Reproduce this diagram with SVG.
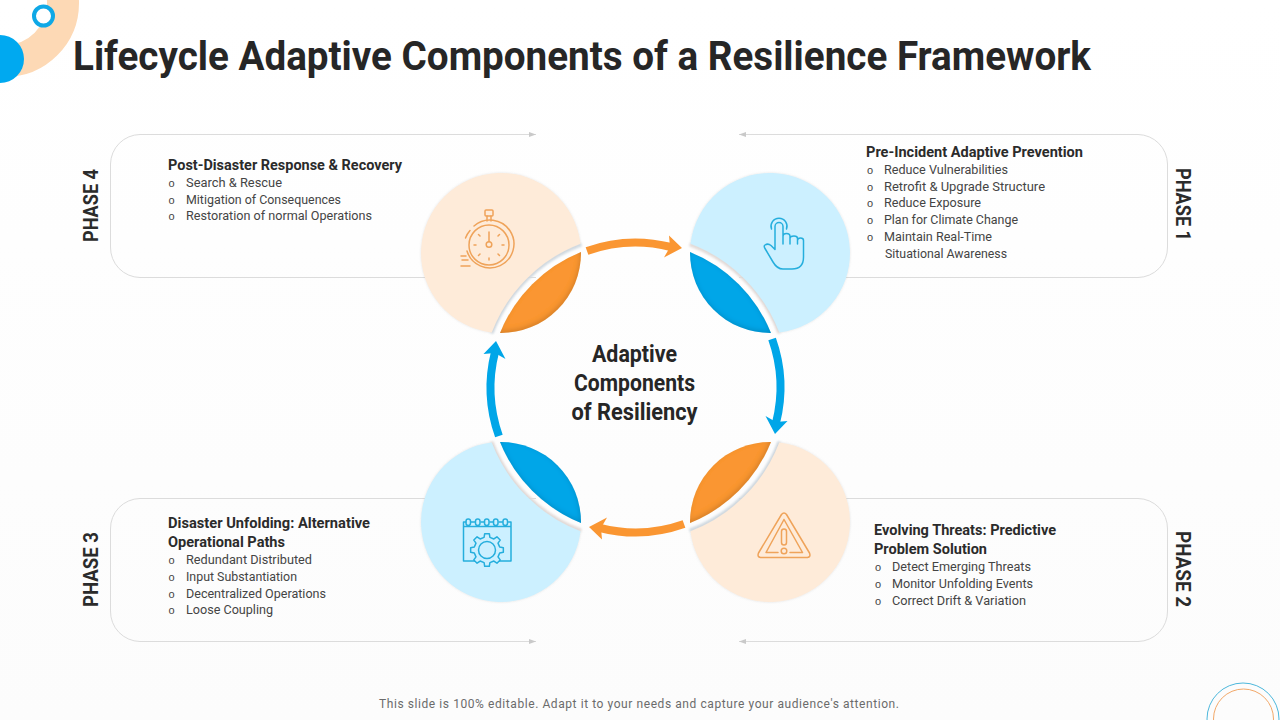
<svg xmlns="http://www.w3.org/2000/svg" width="1280" height="720" viewBox="0 0 1280 720">
<style>
.h{font:700 14px Roboto,"Liberation Sans",sans-serif;fill:#2b2b2b}
.b{font:400 12.5px Roboto,"Liberation Sans",sans-serif;fill:#444}
.o{font:400 11px "Liberation Sans",sans-serif;fill:#444}
.ph{font:700 20px Roboto,"Liberation Sans",sans-serif;fill:#2b2b2b}
.c{font:700 23px Roboto,"Liberation Sans",sans-serif;fill:#262626;text-anchor:middle}
.panel{fill:none;stroke:#dcdcdc;stroke-width:1;marker-start:url(#tick)}
.po{fill:#FEEBD9;filter:url(#soft)}
.pb{fill:#CCF0FF;filter:url(#soft)}
.lo{fill:#FA9632;filter:url(#inner)}
.lb{fill:#00A6E8;filter:url(#inner)}
.edge{fill:none;stroke-width:3.5;filter:url(#blur)}
.io{fill:none;stroke:#EFA35A;stroke-width:1.5;stroke-linecap:round;stroke-linejoin:round}
.ib{fill:none;stroke:#25AEDD;stroke-width:1.5;stroke-linecap:round;stroke-linejoin:round}
.ao{fill:none;stroke:#FA9632;stroke-width:8}
.ab{fill:none;stroke:#00A6E8;stroke-width:8}
</style>
<defs>
<linearGradient id="bg" x1="0" y1="0" x2="0" y2="1"><stop offset="0" stop-color="#ffffff"/><stop offset="1" stop-color="#fcfcfc"/></linearGradient>
<filter id="soft" x="-10%" y="-10%" width="120%" height="120%"><feDropShadow dx="0" dy="0" stdDeviation="1" flood-color="#888" flood-opacity=".25"/></filter>
<filter id="blur" x="-10%" y="-10%" width="120%" height="120%"><feGaussianBlur stdDeviation=".8"/></filter>
<filter id="inner" x="-10%" y="-10%" width="120%" height="120%">
<feFlood flood-color="#000" flood-opacity=".3" result="f"/>
<feComposite in="f" in2="SourceAlpha" operator="out" result="inv"/>
<feGaussianBlur in="inv" stdDeviation="2.5" result="bl"/>
<feOffset in="bl" dx="-1" dy="-2" result="of"/>
<feComposite in="of" in2="SourceAlpha" operator="in" result="sh"/>
<feMerge><feMergeNode in="SourceGraphic"/><feMergeNode in="sh"/></feMerge>
</filter>
<marker id="tick" markerUnits="userSpaceOnUse" markerWidth="8" markerHeight="6" refX="7" refY="3" orient="auto-start-reverse"><path d="M0 0.5L7 3L0 5.500z" fill="#c9c9c9"/></marker>
</defs>
<rect width="1280" height="720" fill="url(#bg)"/>

<g id="decor">
<circle cx="5" cy="3" r="58" fill="none" stroke="#FDD9B5" stroke-width="32"/>
<circle cx="43.500" cy="16" r="9.500" fill="#fff" stroke="#0FA8E6" stroke-width="4"/>
<circle cx="0" cy="59" r="24" fill="#00A9F0"/>
<circle cx="1243" cy="719" r="36" fill="none" stroke="#4DB8DC" stroke-width="1"/>
<circle cx="1243.500" cy="719" r="30" fill="none" stroke="#F2A869" stroke-width="1"/>
</g>

<text id="title" x="73" y="70" font-family="Roboto,'Liberation Sans',sans-serif" font-weight="700" font-size="40" fill="#262626" textLength="1018" lengthAdjust="spacingAndGlyphs">Lifecycle Adaptive Components of a Resilience Framework</text>

<g id="phase-4">
<path class="panel" d="M536 134.500H140A30 30 0 0 0 110.500 164V247A30 30 0 0 0 140 277.500H536"/>
<path class="edge" stroke="#d3dce3" d="M491.700 333.500A152.500 152.500 0 0 1 581.500 244.500"/>
<path class="po" d="M580.500 243.700A80 80 0 1 0 491.700 332.500A154 154 0 0 1 580.500 243.700z"/>
<path class="lo" d="M581 252A80 80 0 0 1 500 333A146 146 0 0 1 581 252z"/>
<g class="io">
<path d="M474 226A24 24 0 1 1 467 251M470 230.500A24 24 0 0 0 465.500 238"/>
<circle cx="489" cy="245" r="20"/>
<rect x="485" y="210" width="8" height="6" rx="1"/>
<path d="M487 216V221M491 216V221"/>
<circle cx="489" cy="244.500" r="2.800"/>
<path d="M489 232V241.500M489 258V260M476 245H474M502 245H504M480 236L478.500 234.500M498 236L499.500 234.500M480 254L478.500 255.500M498 254L499.500 255.500"/>
<path d="M461 256H466M462 260H468M461 266H470"/>
</g>
<text class="ph" transform="translate(98 242) rotate(-90)" textLength="73" lengthAdjust="spacingAndGlyphs">PHASE 4</text>
<text class="h" x="168" y="170" textLength="234" lengthAdjust="spacingAndGlyphs">Post-Disaster Response  &amp; Recovery</text>
<text class="o" x="168.500" y="187">o</text><text class="b" x="186" y="187" textLength="96" lengthAdjust="spacingAndGlyphs">Search &amp; Rescue</text>
<text class="o" x="168.500" y="204">o</text><text class="b" x="186" y="204" textLength="155" lengthAdjust="spacingAndGlyphs">Mitigation of Consequences</text>
<text class="o" x="168.500" y="220">o</text><text class="b" x="186" y="220" textLength="186" lengthAdjust="spacingAndGlyphs">Restoration of normal Operations</text>
</g>

<g id="phase-1">
<path class="panel" d="M739 134.500H1138A30 30 0 0 1 1167.500 164V247A30 30 0 0 1 1138 277.500H739"/>
<path class="edge" stroke="#e6dedb" d="M779.300 333.500A152.500 152.500 0 0 0 689.500 244.500"/>
<path class="pb" d="M690.500 243.700A80 80 0 1 1 779.300 332.500A154 154 0 0 0 690.500 243.700z"/>
<path class="lb" d="M690 252A80 80 0 0 0 771 333A146 146 0 0 0 690 252z"/>
<g class="ib">
<path d="M771.500 229A8 8 0 1 1 786.500 229"/>
<path d="M783 241V226.500A4 4 0 0 0 775 226.500V249.500L771 245.500Q768 243 765 245Q763.500 246 765 248.500L773 262Q777 269 783 269H792Q803.500 269 803.500 257V240.500Q803.500 238 800.500 238Q797.500 238 797.500 240.500V244V238.500Q797.500 236 794 236Q790 236 790 238.500V244V236.500Q790 233.500 786.500 233.500Q783 233.500 783 236.500V244"/>
</g>
<text class="ph" transform="translate(1176 168) rotate(90)" textLength="73" lengthAdjust="spacingAndGlyphs">PHASE 1</text>
<text class="h" x="866" y="157" textLength="217" lengthAdjust="spacingAndGlyphs">Pre-Incident Adaptive Prevention</text>
<text class="o" x="867" y="174">o</text><text class="b" x="884" y="174" textLength="124" lengthAdjust="spacingAndGlyphs">Reduce Vulnerabilities</text>
<text class="o" x="867" y="191">o</text><text class="b" x="884" y="191" textLength="161" lengthAdjust="spacingAndGlyphs">Retrofit &amp; Upgrade Structure</text>
<text class="o" x="867" y="207">o</text><text class="b" x="884" y="207" textLength="97" lengthAdjust="spacingAndGlyphs">Reduce Exposure</text>
<text class="o" x="867" y="224">o</text><text class="b" x="884" y="224" textLength="134" lengthAdjust="spacingAndGlyphs">Plan for Climate Change</text>
<text class="o" x="867" y="241">o</text><text class="b" x="884" y="241" textLength="108" lengthAdjust="spacingAndGlyphs">Maintain Real-Time</text>
<text class="b" x="885" y="258" textLength="122" lengthAdjust="spacingAndGlyphs">Situational Awareness</text>
</g>

<g id="phase-3">
<path class="panel" d="M536 641.500H140A30 30 0 0 1 110.500 611V529A30 30 0 0 1 140 498.500H536"/>
<path class="edge" stroke="#e6dedb" d="M491.700 441.500A152.500 152.500 0 0 0 581.500 530.500"/>
<path class="pb" d="M580.500 531.300A80 80 0 1 1 491.700 442.500A154 154 0 0 0 580.500 531.300z"/>
<path class="lb" d="M581 523A80 80 0 0 0 500 442A146 146 0 0 0 581 523z"/>
<g class="ib">
<path d="M466 522H463.500V561H511V522H508.500M463.500 526.500H511M471 522H475M481 522H484.500M490 522H493.500M499 522H502.500"/>
<rect x="466" y="519" width="4.500" height="6.500" rx="2.200"/><rect x="475.500" y="519" width="4.500" height="6.500" rx="2.200"/><rect x="484.500" y="519" width="4.500" height="6.500" rx="2.200"/><rect x="493.500" y="519" width="4.500" height="6.500" rx="2.200"/><rect x="503" y="519" width="4.500" height="6.500" rx="2.200"/>
<polygon transform="translate(487 550)" fill="#CCF0FF" points="12.67,-2.92 16.34,-2.3 16.34,2.3 12.67,2.92 11.02,6.89 13.18,9.93 9.93,13.18 6.89,11.02 2.92,12.67 2.3,16.34 -2.3,16.34 -2.92,12.67 -6.89,11.02 -9.93,13.18 -13.18,9.93 -11.02,6.89 -12.67,2.92 -16.34,2.3 -16.34,-2.3 -12.67,-2.92 -11.02,-6.89 -13.18,-9.93 -9.93,-13.18 -6.89,-11.02 -2.92,-12.67 -2.3,-16.34 2.3,-16.34 2.92,-12.67 6.89,-11.02 9.93,-13.18 13.18,-9.93 11.02,-6.89"/>
<circle cx="487" cy="550" r="8.500"/>
</g>
<text class="ph" transform="translate(98 607) rotate(-90)" textLength="75" lengthAdjust="spacingAndGlyphs">PHASE 3</text>
<text class="h" x="168" y="528" textLength="202" lengthAdjust="spacingAndGlyphs">Disaster Unfolding: Alternative</text>
<text class="h" x="168" y="547" textLength="117" lengthAdjust="spacingAndGlyphs">Operational Paths</text>
<text class="o" x="168.500" y="564">o</text><text class="b" x="186" y="564" textLength="126" lengthAdjust="spacingAndGlyphs">Redundant Distributed</text>
<text class="o" x="168.500" y="581">o</text><text class="b" x="186" y="581" textLength="111" lengthAdjust="spacingAndGlyphs">Input Substantiation</text>
<text class="o" x="168.500" y="598">o</text><text class="b" x="186" y="598" textLength="140" lengthAdjust="spacingAndGlyphs">Decentralized Operations</text>
<text class="o" x="168.500" y="614">o</text><text class="b" x="186" y="614" textLength="87" lengthAdjust="spacingAndGlyphs">Loose Coupling</text>
</g>

<g id="phase-2">
<path class="panel" d="M739 641.500H1138A30 30 0 0 0 1167.500 611V529A30 30 0 0 0 1138 498.500H739"/>
<path class="edge" stroke="#d3dce3" d="M779.300 441.500A152.500 152.500 0 0 1 689.500 530.500"/>
<path class="po" d="M690.500 531.300A80 80 0 1 0 779.300 442.500A154 154 0 0 1 690.500 531.300z"/>
<path class="lo" d="M690 523A80 80 0 0 1 771 442A146 146 0 0 1 690 523z"/>
<g class="io">
<path d="M781.500 514.500Q784 511.500 786.500 514.500L809.500 553Q811 557 807.500 557.500H760.500Q757 557 758.500 553z"/>
<path d="M784 519.500L802.500 552.500H790M778 552.500H766L784 519.500"/>
<rect x="781.500" y="529" width="5" height="16" rx="2.500"/>
<circle cx="784" cy="551" r="2.800"/>
</g>
<text class="ph" transform="translate(1176 531) rotate(90)" textLength="76" lengthAdjust="spacingAndGlyphs">PHASE 2</text>
<text class="h" x="874" y="535" textLength="182" lengthAdjust="spacingAndGlyphs">Evolving Threats: Predictive</text>
<text class="h" x="874" y="554" textLength="113" lengthAdjust="spacingAndGlyphs">Problem Solution</text>
<text class="o" x="875" y="571">o</text><text class="b" x="892" y="571" textLength="139" lengthAdjust="spacingAndGlyphs">Detect Emerging Threats</text>
<text class="o" x="875" y="588">o</text><text class="b" x="892" y="588" textLength="141" lengthAdjust="spacingAndGlyphs">Monitor Unfolding Events</text>
<text class="o" x="875" y="605">o</text><text class="b" x="892" y="605" textLength="134" lengthAdjust="spacingAndGlyphs">Correct Drift &amp; Variation</text>
</g>

<g id="connectors">
<g><path class="ao" d="M587 250.900A145 145 0 0 1 671 247"/><path d="M682 248L669 235.500L670 247L664 257.500z" fill="#FA9632"/></g>
<g transform="rotate(90 635.500 387.500)"><path class="ab" d="M587 250.900A145 145 0 0 1 671 247"/><path d="M682 248L669 235.500L670 247L664 257.500z" fill="#00A6E8"/></g>
<g transform="rotate(180 635.500 387.500)"><path class="ao" d="M587 250.900A145 145 0 0 1 671 247"/><path d="M682 248L669 235.500L670 247L664 257.500z" fill="#FA9632"/></g>
<g transform="rotate(270 635.500 387.500)"><path class="ab" d="M587 250.900A145 145 0 0 1 671 247"/><path d="M682 248L669 235.500L670 247L664 257.500z" fill="#00A6E8"/></g>
</g>

<g id="center">
<text class="c" x="634.500" y="362" textLength="85" lengthAdjust="spacingAndGlyphs">Adaptive</text>
<text class="c" x="634.500" y="391" textLength="121" lengthAdjust="spacingAndGlyphs">Components</text>
<text class="c" x="634.500" y="420" textLength="126" lengthAdjust="spacingAndGlyphs">of Resiliency</text>
</g>

<text id="footer" x="379" y="708" font-family="Roboto,'Liberation Sans',sans-serif" font-size="12" fill="#6b6b6b" textLength="520">This slide is 100% editable. Adapt it to your needs and capture your audience's attention.</text>
</svg>
